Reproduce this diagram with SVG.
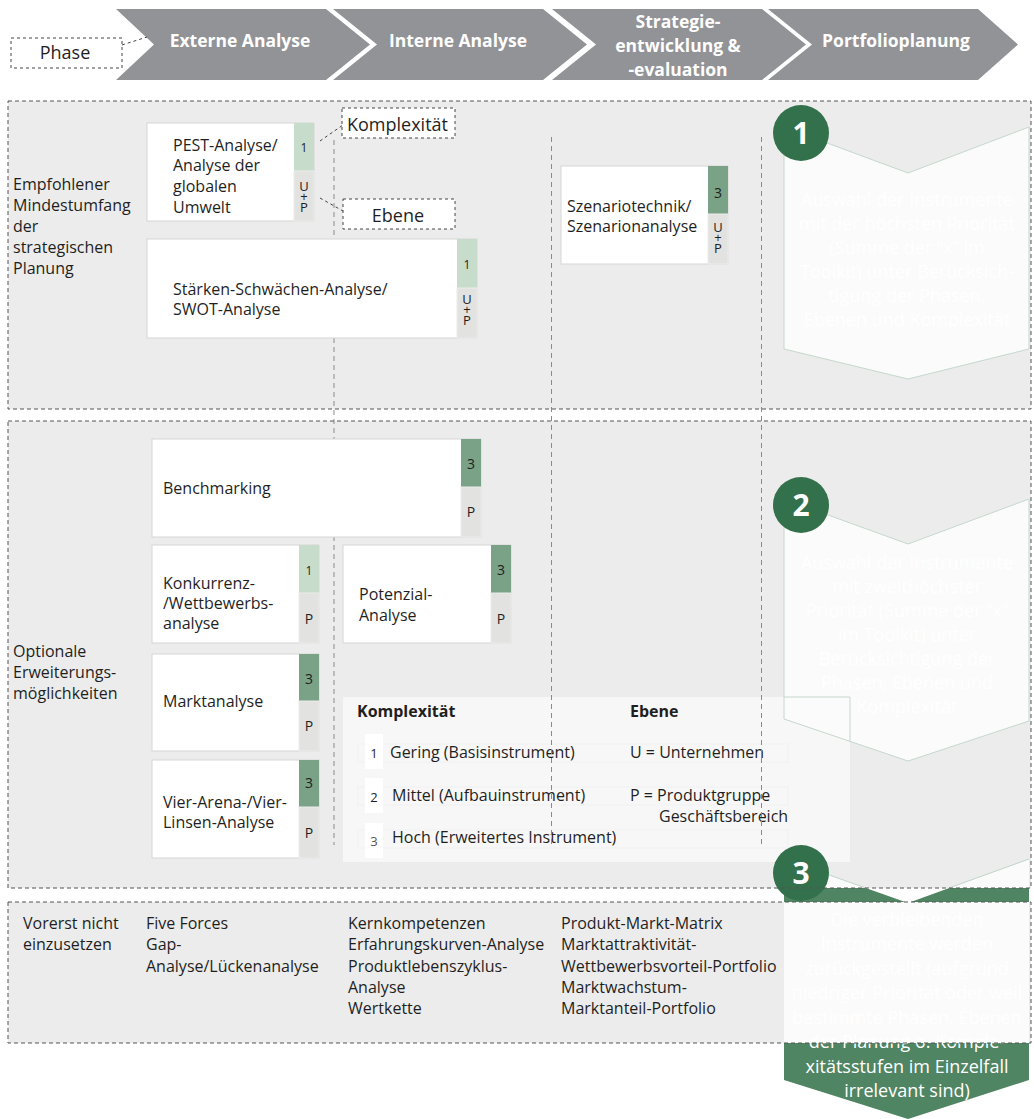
<svg xmlns="http://www.w3.org/2000/svg" width="1034" height="1119" viewBox="0 0 1034 1119">
<style>
text{font-family:"Open Sans","Noto Sans","Liberation Sans",sans-serif;fill:#1f1f1f}
.t{font-size:16px}
.hd{font-size:17.5px;font-weight:bold;fill:#fff;text-anchor:middle}
.num{font-size:13px;text-anchor:middle}
.lvl{font-size:14px;text-anchor:middle}
.up{font-size:13px;text-anchor:middle}
.box{fill:#fff;stroke:#d5d5d5;stroke-width:1}
.lg{fill:#c8dccb}
.dg{fill:#79a286}
.gc{fill:#e2e2e0;stroke:#ececec;stroke-width:1}
.sec{fill:none;stroke:#555;stroke-width:1;stroke-dasharray:4 3}
.guide{stroke:#8a8a8a;stroke-width:1;stroke-dasharray:5 4;fill:none}
.call{stroke:#444;stroke-width:1;stroke-dasharray:3 3;fill:none}
.cb{fill:#fff;stroke:#444;stroke-width:1;stroke-dasharray:3 3}
.chv{fill:#fbfbfb;stroke:#c5d8cc;stroke-width:1}
.ct{font-size:18px;fill:#fff;text-anchor:middle}
.circ{fill:#33714c}
.cn{font-size:30px;font-weight:bold;fill:#fff;text-anchor:middle}
.hdr{fill:#929397}
</style>

<!-- header -->
<g id="header">
  <polygon class="hdr" points="116,9 326,9 370,44.5 326,80 116,80 154,44.5"/>
  <polygon class="hdr" points="333,9 543,9 587,44.5 543,80 333,80 377,44.5"/>
  <polygon class="hdr" points="552,9 762,9 806,44.5 762,80 552,80 596,44.5"/>
  <polygon class="hdr" points="768,9 978,9 1018,44.5 978,80 768,80 812,44.5"/>
  <text class="hd" x="240" y="47">Externe Analyse</text>
  <text class="hd" x="458" y="47">Interne Analyse</text>
  <text class="hd" x="678" y="28">Strategie-</text>
  <text class="hd" x="678" y="52">entwicklung &amp;</text>
  <text class="hd" x="678" y="76">-evaluation</text>
  <text class="hd" x="896" y="47">Portfolioplanung</text>
</g>
<g id="phase">
  <rect class="cb" x="11" y="38" width="111" height="30"/>
  <text x="65" y="59" style="font-size:18px;text-anchor:middle">Phase</text>
</g>

<!-- section backgrounds -->
<g id="sections">
  <rect x="8" y="101" width="1023" height="308" fill="#ececec"/>
  <rect x="8" y="421" width="1023" height="467" fill="#ececec"/>
  <rect x="8" y="902" width="1023" height="141" fill="#ececec"/>
  <text class="t" x="13" y="190">Empfohlener</text>
  <text class="t" x="13" y="211">Mindestumfang</text>
  <text class="t" x="13" y="232">der</text>
  <text class="t" x="13" y="253">strategischen</text>
  <text class="t" x="13" y="274">Planung</text>
  <text class="t" x="13" y="657">Optionale</text>
  <text class="t" x="13" y="678">Erweiterungs-</text>
  <text class="t" x="13" y="699">möglichkeiten</text>
</g>

<!-- legend -->
<g id="legend">
  <rect x="343" y="697" width="507" height="165" fill="#f7f7f7"/>
  <rect x="358" y="744" width="430" height="18" fill="none" stroke="#f1f1f1"/>
  <rect x="358" y="787" width="430" height="18" fill="none" stroke="#f1f1f1"/>
  <rect x="358" y="830" width="430" height="18" fill="none" stroke="#f1f1f1"/>
  <rect x="365" y="734" width="18" height="35" fill="#fff"/>
  <rect x="365" y="778" width="18" height="35" fill="#fff"/>
  <rect x="365" y="823" width="18" height="35" fill="#fff"/>
  <text class="t" x="357" y="717" style="font-weight:bold">Komplexität</text>
  <text class="t" x="630" y="717" style="font-weight:bold">Ebene</text>
  <text class="num" x="374" y="758">1</text>
  <text class="t" x="390" y="758">Gering (Basisinstrument)</text>
  <text class="num" x="374" y="802">2</text>
  <text class="t" x="392" y="801">Mittel (Aufbauinstrument)</text>
  <text class="num" x="374" y="846" style="fill:#555">3</text>
  <text class="t" x="392" y="843">Hoch (Erweitertes Instrument)</text>
  <text class="t" x="630" y="758">U = Unternehmen</text>
  <text class="t" x="630" y="801">P = Produktgruppe</text>
  <text class="t" x="659" y="822">Geschäftsbereich</text>
</g>

<!-- guide lines and callout connectors -->
<g id="connectors">
  <line class="guide" x1="334" y1="140" x2="334" y2="845"/>
  <line class="guide" x1="551.5" y1="137" x2="551.5" y2="845"/>
  <line class="guide" x1="761.5" y1="137" x2="761.5" y2="845"/>
  <path class="call" d="M122,45 L147,37"/>
  <path class="call" d="M320,141 L343,125"/>
  <path class="call" d="M320,198 L343,211"/>
</g>

<!-- callout labels -->
<g id="komplexitaet">
  <rect class="cb" x="342" y="108" width="113" height="30"/>
  <text x="347" y="131" style="font-size:18px">Komplexität</text>
</g>
<g id="ebene">
  <rect class="cb" x="343" y="199" width="112" height="30"/>
  <text x="398" y="222" style="font-size:18px;text-anchor:middle">Ebene</text>
</g>

<!-- instrument nodes -->
<g id="pest">
  <rect class="box" x="147" y="123" width="167" height="98"/>
  <rect class="lg" x="294" y="123" width="20" height="48"/>
  <rect class="gc" x="294" y="171" width="20" height="50"/>
  <text class="num" x="304" y="152" style="font-size:12px">1</text>
  <text class="up" x="304" y="191">U<tspan x="304" dy="9.5">+</tspan><tspan x="304" dy="11.5">P</tspan></text>
  <text class="t" x="173" y="151">PEST-Analyse/</text>
  <text class="t" x="173" y="171">Analyse der</text>
  <text class="t" x="173" y="192">globalen</text>
  <text class="t" x="173" y="213">Umwelt</text>
</g>
<g id="swot">
  <rect class="box" x="147" y="239" width="330" height="99"/>
  <rect class="lg" x="457" y="239" width="20" height="49"/>
  <rect class="gc" x="457" y="288" width="20" height="50"/>
  <text class="num" x="467" y="269" style="font-size:12px">1</text>
  <text class="up" x="467" y="304">U<tspan x="467" dy="9.5">+</tspan><tspan x="467" dy="11.5">P</tspan></text>
  <text class="t" x="173" y="295">Stärken-Schwächen-Analyse/</text>
  <text class="t" x="173" y="315">SWOT-Analyse</text>
</g>
<g id="szenario">
  <rect class="box" x="561" y="166" width="167" height="98"/>
  <rect class="dg" x="708" y="166" width="20" height="48"/>
  <rect class="gc" x="708" y="214" width="20" height="50"/>
  <text class="lvl" x="718" y="198">3</text>
  <text class="up" x="718" y="232">U<tspan x="718" dy="9.5">+</tspan><tspan x="718" dy="11.5">P</tspan></text>
  <text class="t" x="567" y="212">Szenariotechnik/</text>
  <text class="t" x="567" y="232">Szenarionanalyse</text>
</g>
<g id="benchmarking">
  <rect class="box" x="152" y="439" width="329" height="98"/>
  <rect class="dg" x="461" y="439" width="20" height="48"/>
  <rect class="gc" x="461" y="487" width="20" height="50"/>
  <text class="lvl" x="471" y="469">3</text>
  <text class="lvl" x="471" y="517">P</text>
  <text class="t" x="163" y="494">Benchmarking</text>
</g>
<g id="konkurrenz">
  <rect class="box" x="152" y="545" width="167" height="98"/>
  <rect class="lg" x="299" y="545" width="20" height="48"/>
  <rect class="gc" x="299" y="593" width="20" height="50"/>
  <text class="num" x="309" y="575" style="font-size:12px">1</text>
  <text class="lvl" x="309" y="624">P</text>
  <text class="t" x="163" y="589">Konkurrenz-</text>
  <text class="t" x="163" y="609">/Wettbewerbs-</text>
  <text class="t" x="163" y="629">analyse</text>
</g>
<g id="potenzial">
  <rect class="box" x="343" y="545" width="168" height="98"/>
  <rect class="dg" x="491" y="545" width="20" height="48"/>
  <rect class="gc" x="491" y="593" width="20" height="50"/>
  <text class="lvl" x="501" y="575">3</text>
  <text class="lvl" x="501" y="624">P</text>
  <text class="t" x="359" y="600">Potenzial-</text>
  <text class="t" x="359" y="621">Analyse</text>
</g>
<g id="marktanalyse">
  <rect class="box" x="152" y="654" width="167" height="97"/>
  <rect class="dg" x="299" y="654" width="20" height="47"/>
  <rect class="gc" x="299" y="701" width="20" height="50"/>
  <text class="lvl" x="309" y="684">3</text>
  <text class="lvl" x="309" y="731">P</text>
  <text class="t" x="163" y="707">Marktanalyse</text>
</g>
<g id="vierarena">
  <rect class="box" x="152" y="760" width="167" height="98"/>
  <rect class="dg" x="299" y="760" width="20" height="47"/>
  <rect class="gc" x="299" y="807" width="20" height="51"/>
  <text class="lvl" x="309" y="788">3</text>
  <text class="lvl" x="309" y="838">P</text>
  <text class="t" x="163" y="808">Vier-Arena-/Vier-</text>
  <text class="t" x="163" y="828">Linsen-Analyse</text>
</g>

<!-- bottom section list -->
<g id="vorerst">
  <text class="t" x="23" y="929">Vorerst nicht</text>
  <text class="t" x="23" y="950">einzusetzen</text>
  <text class="t" x="146" y="929">Five Forces</text>
  <text class="t" x="146" y="950">Gap-</text>
  <text class="t" x="146" y="972">Analyse/Lückenanalyse</text>
  <text class="t" x="348" y="929">Kernkompetenzen</text>
  <text class="t" x="348" y="950">Erfahrungskurven-Analyse</text>
  <text class="t" x="348" y="972">Produktlebenszyklus-</text>
  <text class="t" x="348" y="993">Analyse</text>
  <text class="t" x="348" y="1014">Wertkette</text>
  <text class="t" x="561" y="929">Produkt-Markt-Matrix</text>
  <text class="t" x="561" y="950">Marktattraktivität-</text>
  <text class="t" x="561" y="972">Wettbewerbsvorteil-Portfolio</text>
  <text class="t" x="561" y="993">Marktwachstum-</text>
  <text class="t" x="561" y="1014">Marktanteil-Portfolio</text>
</g>

<!-- step chevrons -->
<g id="step1">
  <polygon class="chv" points="784,127 908,173 1029,127 1029,349 908,379 784,349"/>
  <text class="ct" x="907" y="206">Auswahl der Instrumente</text>
  <text class="ct" x="907" y="230">mit der höchsten Priorität</text>
  <text class="ct" x="907" y="254">(Summe der “x” im</text>
  <text class="ct" x="907" y="278">Toolkit) unter Berücksich-</text>
  <text class="ct" x="907" y="302">tigung der Phasen,</text>
  <text class="ct" x="907" y="326">Ebenen und Komplexität</text>
  <circle class="circ" cx="801" cy="133" r="28"/>
  <text class="cn" x="801" y="144">1</text>
</g>
<g id="step2">
  <polygon class="chv" points="784,499 908,544 1029,499 1029,721 908,761 784,719"/>
  <path d="M784,697 H850 V742" fill="none" stroke="#c5d8cc" stroke-width="1"/>
  <text class="ct" x="907" y="569">Auswahl der Instrumente</text>
  <text class="ct" x="907" y="593">mit zweithöchster</text>
  <text class="ct" x="907" y="617">Priorität (Summe der “x”</text>
  <text class="ct" x="907" y="641">im Toolkit) unter</text>
  <text class="ct" x="907" y="665">Berücksichtigung der</text>
  <text class="ct" x="907" y="689">Phasen, Ebenen und</text>
  <text class="ct" x="907" y="713">Komplexität</text>
  <circle class="circ" cx="801" cy="505" r="28"/>
  <text class="cn" x="801" y="516">2</text>
</g>
<g id="step3">
  <polygon points="784,859 908,903 1029,859 1029,1080 908,1119 784,1080" fill="#508563"/>
  <polygon points="784,859 866,888 784,888" fill="#fbfbfb"/>
  <polygon points="949,888 1029,859 1029,888" fill="#fbfbfb"/>
  <path d="M784,859 L866,888 M949,888 L1029,859" stroke="#c5d8cc" stroke-width="1" fill="none"/>
  <rect x="784" y="902" width="245" height="141" fill="#fbfbfb"/>
  <text class="ct" x="907" y="926">Die verbleibenden</text>
  <text class="ct" x="907" y="950">Instrumente werden</text>
  <text class="ct" x="907" y="975">zurückgestellt (aufgrund</text>
  <text class="ct" x="907" y="999">niedriger Priorität oder weil</text>
  <text class="ct" x="907" y="1024">bestimmte Phasen, Ebenen</text>
  <text class="ct" x="907" y="1048">der Planung o. Komple-</text>
  <text class="ct" x="907" y="1073">xitätsstufen im Einzelfall</text>
  <text class="ct" x="907" y="1097">irrelevant sind)</text>
  <circle class="circ" cx="801" cy="873" r="28"/>
  <text class="cn" x="801" y="884">3</text>
</g>

<!-- section borders -->
<g id="section-borders">
  <rect class="sec" x="8" y="101" width="1023" height="308"/>
  <rect class="sec" x="8" y="421" width="1023" height="467"/>
  <rect class="sec" x="8" y="902" width="1023" height="141"/>
</g>
</svg>
